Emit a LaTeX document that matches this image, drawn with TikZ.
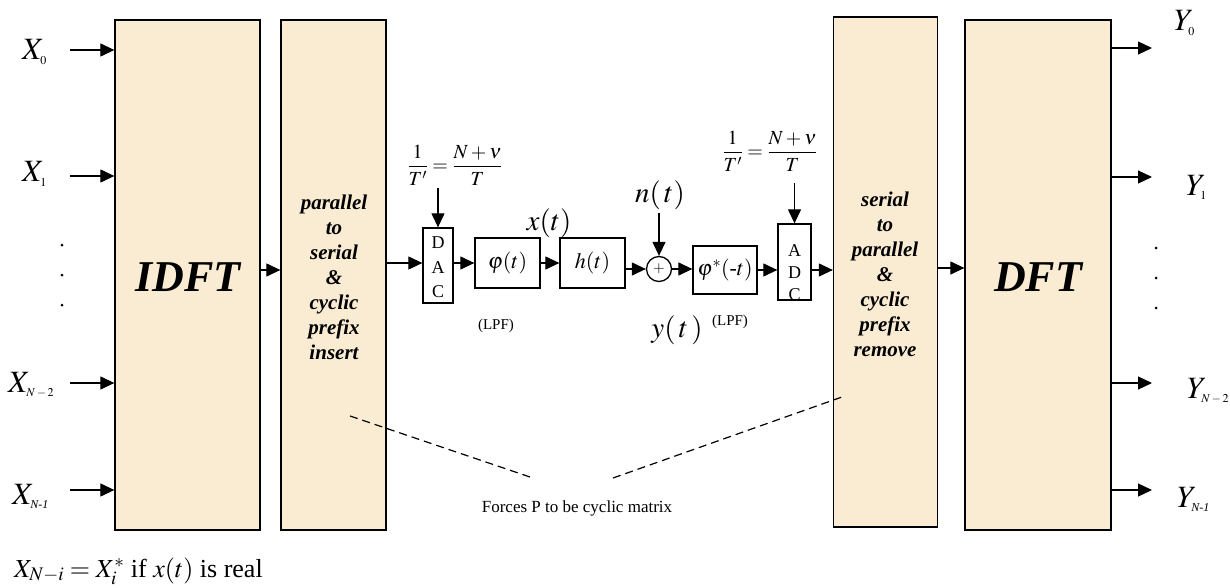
\documentclass[tikz,border=0pt]{standalone}
\usepackage{mathptmx}
\usepackage{fontspec}
\setmainfont{Liberation Serif}
\usetikzlibrary{arrows.meta}
\definecolor{parch}{RGB}{250,236,211}
\newcommand{\tinysub}[1]{\mbox{\fontsize{12}{12}\selectfont$#1$}}
\tikzset{
  bigbox/.style={draw, line width=1.3pt, fill=parch, inner sep=0pt, minimum width=#1},
  smallbox/.style={draw, line width=1.3pt, fill=white, inner sep=0pt},
  boxtext/.style={align=center, font=\fontsize{21}{25}\selectfont\bfseries\itshape},
  bigtitle/.style={font=\fontsize{44}{48}\selectfont\bfseries\itshape},
  arr/.style={line width=1.2pt, -{Triangle[length=14pt,width=13pt]}},
  dashline/.style={line width=1.2pt, dash pattern=on 8pt off 5pt},
  lab/.style={font=\fontsize{31}{34}\selectfont, inner sep=0pt, anchor=base west},
  midlab/.style={font=\fontsize{29}{30}\selectfont, inner sep=0pt},
  fraclab/.style={font=\fontsize{20}{22}\selectfont, inner sep=0pt},
  lpf/.style={font=\fontsize{15}{18}\selectfont, inner sep=0pt},
  inbox/.style={font=\fontsize{22}{24}\selectfont},
  dot/.style={circle, fill=black, inner sep=0pt, minimum size=3pt},
}
\begin{document}
\begin{tikzpicture}[x=1pt,y=-1pt]
\useasboundingbox (0,0) rectangle (1230,588);
% big boxes
\node[bigbox=145pt, minimum height=510pt] (idft) at (187.5,275) {};
\node[bigtitle] (idftt) at (188,277) {IDFT};
\node[bigbox=105pt, minimum height=510pt] (ps) at (333.5,275) {};
\node[boxtext] (pst) at (334,277) {parallel\\to\\serial\\\&\\cyclic\\prefix\\insert};
\node[bigbox=104pt, minimum height=510pt] (sp) at (885.5,272) {};
\node[boxtext] (spt) at (885,274) {serial\\to\\parallel\\\&\\cyclic\\prefix\\remove};
\node[bigbox=146pt, minimum height=510pt] (dft) at (1038,275) {};
\node[bigtitle] (dftt) at (1038,277) {DFT};

% inputs
\coordinate (i0) at (70,50);
\coordinate (i1) at (70,176);
\coordinate (i2) at (70,383);
\coordinate (i3) at (70,490);
\draw[arr] (i0) -- (i0 -| idft.west);
\draw[arr] (i1) -- (i1 -| idft.west);
\draw[arr] (i2) -- (i2 -| idft.west);
\draw[arr] (i3) -- (i3 -| idft.west);
\node[lab] (x0) at (22,60) {$X_{\tinysub{0}}$};
\node[lab] (x1) at (22,182) {$X_{\tinysub{1}}$};
\node[lab] (x2) at (8,392) {$X_{\tinysub{N-2}}$};
\node[lab] (x3) at (12,504) {$X_{\tinysub{\textit{N-1}}}$};
\node[dot] (ld1) at (62,245) {};
\node[dot] (ld2) at (62,275) {};
\node[dot] (ld3) at (62,305) {};

% outputs
\coordinate (o0) at (1152,48);
\coordinate (o1) at (1152,177);
\coordinate (o2) at (1152,383);
\coordinate (o3) at (1152,490);
\draw[arr] (o0 -| dft.east) -- (o0);
\draw[arr] (o1 -| dft.east) -- (o1);
\draw[arr] (o2 -| dft.east) -- (o2);
\draw[arr] (o3 -| dft.east) -- (o3);
\node[lab] (y0) at (1174,31) {$Y_{\tinysub{0}}$};
\node[lab] (y1) at (1186,195) {$Y_{\tinysub{1}}$};
\node[lab] (y2) at (1187,398) {$Y_{\tinysub{N-2}}$};
\node[lab] (y3) at (1177,507) {$Y_{\tinysub{\textit{N-1}}}$};
\node[dot] (rd1) at (1156,248) {};
\node[dot] (rd2) at (1156,278) {};
\node[dot] (rd3) at (1156,308) {};

% chain
\node[smallbox, minimum width=30pt, minimum height=75pt] (dac) at (438,265.5) {};
\node[inner sep=0pt, align=center, font=\fontsize{18}{24.5}\selectfont] (dact) at (438,267.5) {D\\A\\C};
\node[smallbox, minimum width=65pt, minimum height=50pt] (phi) at (507.5,263) {\fontsize{22}{24}\selectfont$\varphi(t)$};
\node[smallbox, minimum width=65pt, minimum height=50pt] (h) at (592.5,263) {\fontsize{22}{24}\selectfont$h(t)$};
\node[draw, circle, line width=1.3pt, fill=white, minimum size=25pt, inner sep=0pt] (sum) at (659,269) {\fontsize{15}{15}\selectfont$+$};
\node[smallbox, minimum width=64pt, minimum height=48pt] (phis) at (725,270) {\fontsize{22}{24}\selectfont$\varphi^{*}(\textit{-}t)$};
\node[smallbox, minimum width=33pt, minimum height=76pt] (adc) at (794.5,262) {};
\node[inner sep=0pt, align=center, font=\fontsize{18}{22}\selectfont] (adct) at (794.5,273) {A\\D\\C};

\draw[arr] (ps.east |- 0,263) -- (dac.west |- 0,263);
\draw[arr] (dac.east |- phi.west) -- (phi.west);
\draw[arr] (phi.east) -- (h.west);
\draw[arr] (h.east |- sum.west) -- (sum.west);
\draw[arr] (sum.east) -- (phis.west |- sum.east);
\draw[arr] (phis.east) -- (adc.west |- phis.east);
\draw[arr] (adc.east |- 0,270) -- (sp.west |- 0,270);
\draw[arr] (idft.east |- 0,270) -- (ps.west |- 0,270);
\draw[arr] (sp.east |- 0,268) -- (dft.west |- 0,268);

\node[fraclab] (f1) at (455,165) {$\displaystyle\frac{1}{T'}=\frac{N+\nu}{T}$};
\node[fraclab] (f2) at (770,151) {$\displaystyle\frac{1}{T'}=\frac{N+\nu}{T}$};
\draw[arr] (dac.north |- 0,188) -- (dac.north);
\draw[arr] (adc.north |- 0,183) -- (adc.north);

\node[midlab] (xt) at (549,223) {$x(t)$};
\node[midlab] (nt) at (660,195) {$n(\,t)$};
\draw[arr] (sum.north |- 0,213) -- (sum.north);
\node[midlab] (yt) at (677,330) {$y(\,t\,)$};
\node[lpf] (lpf1) at (496,326) {(LPF)};
\node[lpf] (lpf2) at (730,322) {(LPF)};

% dashed
\coordinate (da) at (350,416);
\coordinate (db) at (533,478);
\coordinate (dc) at (613,478);
\coordinate (dd) at (842,397);
\draw[dashline] (da) -- (db);
\draw[dashline] (dc) -- (dd);
\node[font=\fontsize{17}{20}\selectfont, inner sep=0pt] (forces) at (577,508) {Forces P to be cyclic matrix};

\node[anchor=base west, font=\fontsize{26}{28}\selectfont, inner sep=0pt] (note) at (14,577) {$X_{N-i}=X_{i}^{*}$ if $x(t)$ is real};
\end{tikzpicture}
\end{document}
